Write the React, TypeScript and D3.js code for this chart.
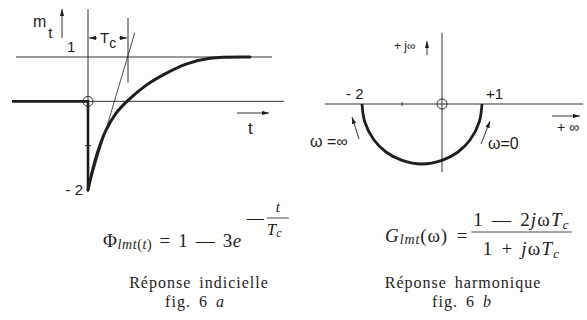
import React, { useEffect, useRef } from 'react';
import * as d3 from 'd3';

// fig. 6a : step response, t expressed in units of Tc
const stepT = [0, 0.1, 0.25, 0.45, 0.7, 1.0, 1.45, 1.95, 2.45, 3.05, 4.05];
const stepM = [-2, -1.6, -1.12, -0.65, -0.27, 0.02, 0.36, 0.63, 0.84, 0.97, 1.0];
const levels = [1, 0];
const stepAxisTicks = [-1];

// fig. 6b : harmonic response in the complex plane (lower half circle from +1 to -2)
const nyqRe = [1, 0.93, 0.7, 0.4, 0, -0.5, -1, -1.4, -1.7, -1.93, -2];
const nyqIm = [0, -0.45, -0.9, -1.2, -1.41, -1.5, -1.41, -1.2, -0.9, -0.45, 0];
const realTicks = [-1];

const ink = '#1e1e1e';
const sans = '"Liberation Sans", Arial, sans-serif';
const serif = '"Liberation Serif", "DejaVu Serif", serif';

const App = () => {
  const ref = useRef<HTMLDivElement>(null);

  useEffect(() => {
    if (!ref.current) return;
    d3.select(ref.current).select('svg').remove();

    const svg = d3.select(ref.current)
      .append('svg')
      .attr('width', 587)
      .attr('height', 320)
      .style('display', 'block')
      .style('background', '#fdfdfc');

    const defs = svg.append('defs');
    defs.append('marker')
      .attr('id', 'ah')
      .attr('viewBox', '0 0 10 6')
      .attr('refX', 10).attr('refY', 3)
      .attr('markerWidth', 7).attr('markerHeight', 4.5)
      .attr('markerUnits', 'userSpaceOnUse')
      .attr('orient', 'auto')
      .append('path').attr('d', 'M0,0L10,3L0,6Z').attr('fill', ink);

    // ---------- fig 6a ----------
    const x1 = d3.scaleLinear().domain([-1.9, 4.9]).range([12, 284]);
    const y1 = d3.scaleLinear().domain([-2, 1]).range([190, 57]);
    const g1 = svg.append('g');

    // level lines (1 and 0)
    g1.selectAll('line.level')
      .data(levels)
      .enter().append('line')
      .attr('x1', d => x1(d === 1 ? -1.8 : -1.9))
      .attr('x2', d => x1(d === 1 ? 4.6 : 4.9))
      .attr('y1', d => y1(d)).attr('y2', d => y1(d))
      .attr('stroke', ink).attr('stroke-width', 0.9);

    // vertical axis
    g1.append('line')
      .attr('x1', x1(0)).attr('x2', x1(0))
      .attr('y1', y1(2.08)).attr('y2', y1(-2.05))
      .attr('stroke', ink).attr('stroke-width', 0.9);
    g1.selectAll('line.tk')
      .data(stepAxisTicks)
      .enter().append('line')
      .attr('x1', x1(0) - 3).attr('x2', x1(0) + 3)
      .attr('y1', d => y1(d)).attr('y2', d => y1(d))
      .attr('stroke', ink).attr('stroke-width', 0.9);

    // tangent at origin
    g1.append('line')
      .attr('x1', x1(0)).attr('y1', y1(-2))
      .attr('x2', x1(1.17)).attr('y2', y1(1.55))
      .attr('stroke', ink).attr('stroke-width', 0.8);

    // Tc marker
    g1.append('line')
      .attr('x1', x1(1)).attr('x2', x1(1))
      .attr('y1', y1(1.88)).attr('y2', y1(0.42))
      .attr('stroke', ink).attr('stroke-width', 0.9);
    const yTc = y1(1.43);
    g1.append('line')
      .attr('x1', x1(0) + 9).attr('x2', x1(0) + 1)
      .attr('y1', yTc).attr('y2', yTc)
      .attr('stroke', ink).attr('stroke-width', 0.9).attr('marker-end', 'url(#ah)');
    g1.append('line')
      .attr('x1', x1(1) - 9).attr('x2', x1(1) - 1)
      .attr('y1', yTc).attr('y2', yTc)
      .attr('stroke', ink).attr('stroke-width', 0.9).attr('marker-end', 'url(#ah)');
    const tc = g1.append('text')
      .attr('x', x1(0.5) - 8).attr('y', yTc + 5)
      .attr('font-family', sans).attr('font-size', 15).attr('fill', ink);
    tc.append('tspan').text('T');
    tc.append('tspan').attr('font-size', 14).attr('dy', 5).text('c');

    // thick response
    const thick = d3.line<[number, number]>().x(d => x1(d[0])).y(d => y1(d[1]));
    g1.append('path')
      .attr('d', thick([[-1.9, 0], [0, 0], [0, -2]]))
      .attr('fill', 'none').attr('stroke', ink).attr('stroke-width', 2.6);
    const curve = d3.line<number>()
      .x((_, i) => x1(stepT[i]))
      .y(d => y1(d))
      .curve(d3.curveCatmullRom.alpha(0.5));
    g1.append('path')
      .attr('d', curve(stepM))
      .attr('fill', 'none').attr('stroke', ink).attr('stroke-width', 3)
      .attr('stroke-linecap', 'round');

    g1.append('circle')
      .attr('cx', x1(0)).attr('cy', y1(0)).attr('r', 5)
      .attr('fill', 'none').attr('stroke', ink).attr('stroke-width', 0.9);

    // labels
    const mt = g1.append('text')
      .attr('x', 33).attr('y', 27)
      .attr('font-family', sans).attr('font-size', 16).attr('fill', ink);
    mt.append('tspan').text('m');
    mt.append('tspan').attr('font-size', 15).attr('dy', 11).attr('dx', 2).text('t');
    g1.append('line')
      .attr('x1', 62).attr('x2', 62).attr('y1', 38).attr('y2', 9)
      .attr('stroke', ink).attr('stroke-width', 0.9).attr('marker-end', 'url(#ah)');
    g1.append('text').attr('x', 67).attr('y', 52)
      .attr('font-family', sans).attr('font-size', 15).attr('fill', ink).text('1');
    g1.append('text').attr('x', x1(0) - 5).attr('y', y1(-2) + 5)
      .attr('text-anchor', 'end')
      .attr('font-family', sans).attr('font-size', 15).attr('fill', ink).text('- 2');
    g1.append('line')
      .attr('x1', 237).attr('x2', 269).attr('y1', 113).attr('y2', 113)
      .attr('stroke', ink).attr('stroke-width', 0.9).attr('marker-end', 'url(#ah)');
    g1.append('text').attr('x', 248).attr('y', 134)
      .attr('font-family', sans).attr('font-size', 17).attr('fill', ink).text('t');

    // ---------- fig 6b ----------
    const x2 = d3.scaleLinear().domain([-2, 1]).range([362, 482]);
    const y2 = d3.scaleLinear().domain([-1.5, 0]).range([164, 104]);
    const g2 = svg.append('g');

    g2.append('line')
      .attr('x1', x2(-2.93)).attr('x2', x2(3.53))
      .attr('y1', y2(0)).attr('y2', y2(0))
      .attr('stroke', ink).attr('stroke-width', 0.9);
    g2.append('line')
      .attr('x1', x2(0)).attr('x2', x2(0))
      .attr('y1', y2(1.78)).attr('y2', y2(-1.7))
      .attr('stroke', ink).attr('stroke-width', 0.9);
    g2.selectAll('line.rt')
      .data(realTicks)
      .enter().append('line')
      .attr('x1', d => x2(d)).attr('x2', d => x2(d))
      .attr('y1', y2(0) - 2).attr('y2', y2(0) + 2)
      .attr('stroke', ink).attr('stroke-width', 0.9);

    const nyq = d3.line<number>()
      .x(d => x2(d))
      .y((_, i) => y2(nyqIm[i]))
      .curve(d3.curveCatmullRom);
    g2.append('path')
      .attr('d', nyq(nyqRe))
      .attr('fill', 'none').attr('stroke', ink).attr('stroke-width', 2.8);

    g2.append('circle')
      .attr('cx', x2(0)).attr('cy', y2(0)).attr('r', 5)
      .attr('fill', 'none').attr('stroke', ink).attr('stroke-width', 0.9);

    const lab = (x: number, y: number, s: string, size = 15) =>
      g2.append('text').attr('x', x).attr('y', y)
        .attr('font-family', sans).attr('font-size', size).attr('fill', ink).text(s);
    lab(346, 99, '- 2');
    lab(486, 99, '+1');
    lab(394, 50, '+ j∞', 12);
    g2.append('line')
      .attr('x1', 427).attr('x2', 427).attr('y1', 55).attr('y2', 41)
      .attr('stroke', ink).attr('stroke-width', 0.9).attr('marker-end', 'url(#ah)');
    lab(557, 132, '+ ∞', 14);
    g2.append('line')
      .attr('x1', 552).attr('x2', 580).attr('y1', 116).attr('y2', 116)
      .attr('stroke', ink).attr('stroke-width', 0.9).attr('marker-end', 'url(#ah)');
    lab(310, 147, 'ω =∞', 16);
    g2.append('line')
      .attr('x1', 359).attr('x2', 352).attr('y1', 139).attr('y2', 117)
      .attr('stroke', ink).attr('stroke-width', 0.9).attr('marker-end', 'url(#ah)');
    lab(488, 149, 'ω=0', 16);
    g2.append('line')
      .attr('x1', 481).attr('x2', 490).attr('y1', 144).attr('y2', 121)
      .attr('stroke', ink).attr('stroke-width', 0.9).attr('marker-end', 'url(#ah)');

    // ---------- formulas and captions ----------
    const fA = svg.append('text')
      .attr('x', 103).attr('y', 247)
      .attr('font-family', serif).attr('font-size', 19).attr('fill', ink)
      .attr('letter-spacing', 0.6).attr('word-spacing', 2);
    fA.append('tspan').text('Φ');
    fA.append('tspan').attr('font-style', 'italic').attr('font-size', 14).attr('dy', 2).text('lmt');
    fA.append('tspan').attr('font-size', 14).text('(');
    fA.append('tspan').attr('font-style', 'italic').attr('font-size', 14).text('t');
    fA.append('tspan').attr('font-size', 14).text(')');
    fA.append('tspan').attr('dy', -2).text(' = 1 — 3');
    fA.append('tspan').attr('font-style', 'italic').text('e');
    const fAend = 103 + (fA.node() as SVGTextElement).getComputedTextLength();
    svg.append('text').attr('x', fAend + 5).attr('y', 223)
      .attr('font-family', serif).attr('font-size', 17).attr('fill', ink).text('—');
    const fx = fAend + 36;
    svg.append('text').attr('x', fx).attr('y', 212).attr('text-anchor', 'middle')
      .attr('font-family', serif).attr('font-style', 'italic').attr('font-size', 15).attr('fill', ink).text('t');
    svg.append('line').attr('x1', fx - 11).attr('x2', fx + 11).attr('y1', 218).attr('y2', 218)
      .attr('stroke', ink).attr('stroke-width', 0.8);
    const tcA = svg.append('text').attr('x', fx - 11).attr('y', 235)
      .attr('font-family', serif).attr('font-style', 'italic').attr('font-size', 17).attr('fill', ink);
    tcA.append('tspan').text('T');
    tcA.append('tspan').attr('font-size', 12).attr('dy', 2).text('c');

    const fB = svg.append('text')
      .attr('x', 385).attr('y', 242)
      .attr('font-family', serif).attr('font-size', 19).attr('fill', ink)
      .attr('letter-spacing', 0.9).attr('word-spacing', 3);
    fB.append('tspan').attr('font-style', 'italic').text('G');
    fB.append('tspan').attr('font-style', 'italic').attr('font-size', 14).attr('dy', 2).text('lmt');
    fB.append('tspan').attr('dy', -2).text('(ω) = ');
    const fBend = 385 + (fB.node() as SVGTextElement).getComputedTextLength();
    const num = svg.append('text').attr('y', 226)
      .attr('font-family', serif).attr('font-size', 19).attr('fill', ink)
      .attr('letter-spacing', 1.2).attr('word-spacing', 2);
    num.append('tspan').text('1 — 2');
    num.append('tspan').attr('font-style', 'italic').text('j');
    num.append('tspan').text('ω');
    num.append('tspan').attr('font-style', 'italic').text('T');
    num.append('tspan').attr('font-style', 'italic').attr('font-size', 13).attr('dy', 3).text('c');
    const den = svg.append('text').attr('y', 255)
      .attr('font-family', serif).attr('font-size', 19).attr('fill', ink)
      .attr('letter-spacing', 1.2).attr('word-spacing', 2);
    den.append('tspan').text('1 + ');
    den.append('tspan').attr('font-style', 'italic').text('j');
    den.append('tspan').text('ω');
    den.append('tspan').attr('font-style', 'italic').text('T');
    den.append('tspan').attr('font-style', 'italic').attr('font-size', 13).attr('dy', 3).text('c');
    const wNum = (num.node() as SVGTextElement).getComputedTextLength();
    const wDen = (den.node() as SVGTextElement).getComputedTextLength();
    const barW = Math.max(wNum, wDen) + 4;
    const bx = fBend + 3;
    num.attr('x', bx + (barW - wNum) / 2);
    den.attr('x', bx + (barW - wDen) / 2);
    svg.append('line').attr('x1', bx).attr('x2', bx + barW).attr('y1', 232).attr('y2', 232)
      .attr('stroke', ink).attr('stroke-width', 0.8);

    const cap = (x: number, y: number, parts: [string, boolean][]) => {
      const t = svg.append('text').attr('x', x).attr('y', y).attr('text-anchor', 'middle')
        .attr('font-family', serif).attr('font-size', 16).attr('letter-spacing', 1)
        .attr('word-spacing', 3).attr('fill', ink);
      parts.forEach(([s, it]) => t.append('tspan').attr('font-style', it ? 'italic' : 'normal').text(s));
    };
    cap(199, 288, [['Réponse indicielle', false]]);
    cap(195, 307, [['fig.  6 ', false], ['a', true]]);
    cap(463, 288, [['Réponse harmonique', false]]);
    cap(462, 307, [['fig.  6 ', false], ['b', true]]);
  }, []);

  return (
    <div style={{ position: 'fixed', left: 0, top: 0 }} ref={ref}></div>
  );
};

export default App;
